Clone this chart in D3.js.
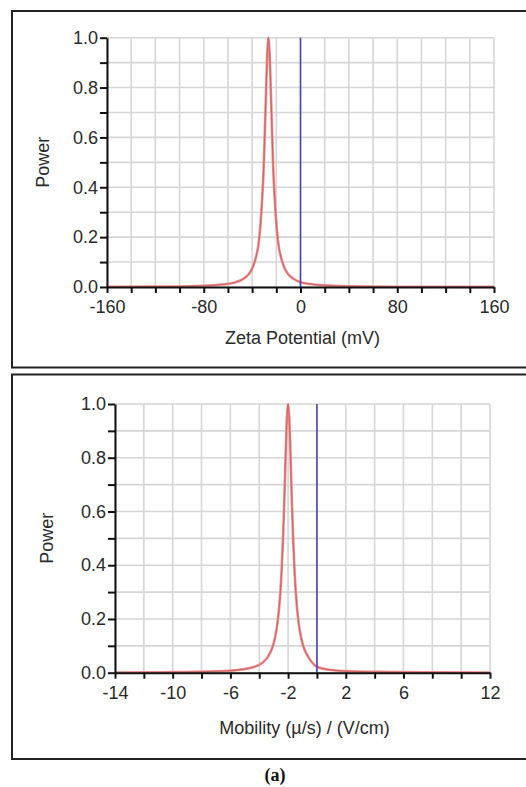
<!DOCTYPE html>
<html>
<head>
<meta charset="utf-8">
<script src="https://cdn.jsdelivr.net/npm/d3@7"></script>
<style>
  body { margin: 0; background: #fff; }
  svg { display: block; }
  text { font-family: "Liberation Sans", Arial, sans-serif; fill: #2a2a2a; }
</style>
</head>
<body>
<svg id="chart" width="526" height="787"></svg>
<script>

// zeta potential spectrum (mV -> power)
const zetaMV = [-160, -110, -80, -65, -55, -46.5, -42.5, -39.5, -36.5, -34.5, -32.5, -31.5, -30.5, -29.5, -28.5,
    -27.5, -26.5, -25.5, -24.5, -23.5, -22.5, -21.5, -20.5, -18.5, -16.5, -13.5, -10.5, -6.5, 0, 8, 20, 40, 80, 160]
const zetaPower = [0.001, 0.002, 0.005, 0.01, 0.017, 0.035, 0.053, 0.079, 0.126, 0.18, 0.29, 0.37, 0.47, 0.62, 0.78,
    0.935, 1.0, 0.935, 0.78, 0.62, 0.47, 0.37, 0.29, 0.18, 0.126, 0.079, 0.053, 0.035, 0.019, 0.012, 0.0065, 0.003, 0.0012, 0.0004]

// mobility spectrum ((µ/s)/(V/cm) -> power)
const mobilityX = [-14, -10, -7, -5.5, -4.5, -3.8, -3.4, -3.1, -2.9, -2.7, -2.55, -2.45, -2.35, -2.25, -2.15,
    -2.08, -2.0, -1.92, -1.85, -1.75, -1.65, -1.55, -1.45, -1.3, -1.1, -0.9, -0.6, -0.2, 0, 1, 2, 4, 8, 12]
const mobilityPower = [0.001, 0.002, 0.005, 0.01, 0.019, 0.036, 0.059, 0.092, 0.131, 0.2, 0.288, 0.377, 0.5, 0.66, 0.845,
    0.95, 1.0, 0.95, 0.845, 0.66, 0.5, 0.377, 0.288, 0.2, 0.131, 0.092, 0.059, 0.03, 0.022, 0.01, 0.006, 0.003, 0.0012, 0.0007]

// reference (zero) line position
const zeroMarker = 0

// axis ticks
const zetaTickLabels = [-160, -80, 0, 80, 160]
const zetaMinorStep = 20
const mobilityTickLabels = [-14, -10, -6, -2, 2, 6, 12]
const mobilityMinorStep = 2
const powerTickLabels = [0, 0.2, 0.4, 0.6, 0.8, 1.0]
const powerMinorStep = 0.1

const FONT_SIZE = 18

const svg = d3.select("#chart")

function drawPanel(opts) {

    var g = svg.append("g")

    // frame round the panel (runs off the right edge of the picture)
    g.append("rect")
        .attr("x", opts.frame.x)
        .attr("y", opts.frame.y)
        .attr("width", 540)
        .attr("height", opts.frame.h)
        .attr("fill", "none")
        .attr("stroke", "#222")
        .attr("stroke-width", 2)

    var x = d3.scaleLinear().domain(opts.xDomain).range([opts.left, opts.right])
    var y = d3.scaleLinear().domain([0, 1]).range([opts.bottom, opts.top])

    var xMinor = d3.range(opts.xDomain[0], opts.xDomain[1] + 1e-9, opts.xStep)
    var yMinor = d3.range(0, 1 + 1e-9, powerMinorStep).map(v => +v.toFixed(1))

    // grid
    var grid = g.append("g").attr("stroke", "#d6d6d6").attr("stroke-width", 1.6)

    grid.selectAll(".vgrid").data(xMinor).enter().append("line")
        .attr("x1", d => x(d)).attr("x2", d => x(d))
        .attr("y1", y(0)).attr("y2", y(1))

    grid.selectAll(".hgrid").data(yMinor).enter().append("line")
        .attr("x1", x(opts.xDomain[0])).attr("x2", x(opts.xDomain[1]))
        .attr("y1", d => y(d)).attr("y2", d => y(d))

    // spectrum
    var points = opts.xs.map((v, i) => [v, opts.ys[i]])
    var line = d3.line().x(d => x(d[0])).y(d => y(d[1])).curve(d3.curveMonotoneX)

    g.append("path").datum(points)
        .attr("d", line)
        .attr("fill", "none")
        .attr("stroke", "#ef8d8d")
        .attr("stroke-width", 2.6)

    g.append("path").datum(points)
        .attr("d", line)
        .attr("fill", "none")
        .attr("stroke", "#a83c3c")
        .attr("stroke-opacity", 0.65)
        .attr("stroke-width", 0.8)

    // zero line
    g.append("line")
        .attr("x1", x(zeroMarker)).attr("x2", x(zeroMarker))
        .attr("y1", y(0)).attr("y2", y(1))
        .attr("stroke", "#4646b4")
        .attr("stroke-width", 1.6)

    // axes
    var fmtY = d3.format(".1f")

    var yAxis = d3.axisLeft(y)
        .tickValues(yMinor)
        .tickSize(7)
        .tickSizeOuter(0)
        .tickPadding(2)
        .tickFormat(d => powerTickLabels.some(v => Math.abs(v - d) < 1e-6) ? fmtY(d) : "")

    var xAxis = d3.axisBottom(x)
        .tickValues(xMinor)
        .tickSize(6)
        .tickSizeOuter(0)
        .tickPadding(opts.xPad)
        .tickFormat(d => opts.xLabels.indexOf(d) >= 0 ? d : "")

    var gy = g.append("g").attr("transform", `translate(${opts.left},0)`).call(yAxis)
    var gx = g.append("g").attr("transform", `translate(0,${opts.bottom})`).call(xAxis)

    ;[gx, gy].forEach(a => {
        a.select(".domain").attr("stroke", "#111").attr("stroke-width", 2)
        a.selectAll(".tick line").attr("stroke", "#111").attr("stroke-width", 2)
        a.selectAll(".tick text").attr("font-size", FONT_SIZE).attr("fill", "#2a2a2a")
            .style("font-family", '"Liberation Sans", Arial, sans-serif')
    })

    // titles
    g.append("text")
        .attr("transform", `translate(${opts.yTitleX},${(opts.top + opts.bottom) / 2}) rotate(-90)`)
        .attr("text-anchor", "middle")
        .attr("dy", "0.35em")
        .attr("font-size", FONT_SIZE)
        .text("Power")

    g.append("text")
        .attr("x", (opts.left + opts.right) / 2 + 2)
        .attr("y", opts.xTitleY)
        .attr("text-anchor", "middle")
        .attr("dy", "0.35em")
        .attr("font-size", FONT_SIZE)
        .text(opts.xTitle)
}

drawPanel({
    frame: {x: 12, y: 11, h: 356.5},
    left: 107, right: 494, top: 37.7, bottom: 287,
    xDomain: [-160, 160], xStep: zetaMinorStep, xLabels: zetaTickLabels, xPad: 7,
    xs: zetaMV, ys: zetaPower,
    xTitle: "Zeta Potential (mV)", xTitleY: 338, yTitleX: 43
})

drawPanel({
    frame: {x: 12, y: 374.5, h: 384.5},
    left: 115, right: 490, top: 404, bottom: 672.7,
    xDomain: [-14, 12], xStep: mobilityMinorStep, xLabels: mobilityTickLabels, xPad: 8,
    xs: mobilityX, ys: mobilityPower,
    xTitle: "Mobility (µ/s) / (V/cm)", xTitleY: 728, yTitleX: 47
})

svg.append("text")
    .attr("x", 275)
    .attr("y", 781)
    .attr("text-anchor", "middle")
    .attr("font-size", 18)
    .attr("font-weight", "bold")
    .style("font-family", '"Liberation Serif", "Times New Roman", serif')
    .style("fill", "#111")
    .text("(a)")

</script>
</body>
</html>
